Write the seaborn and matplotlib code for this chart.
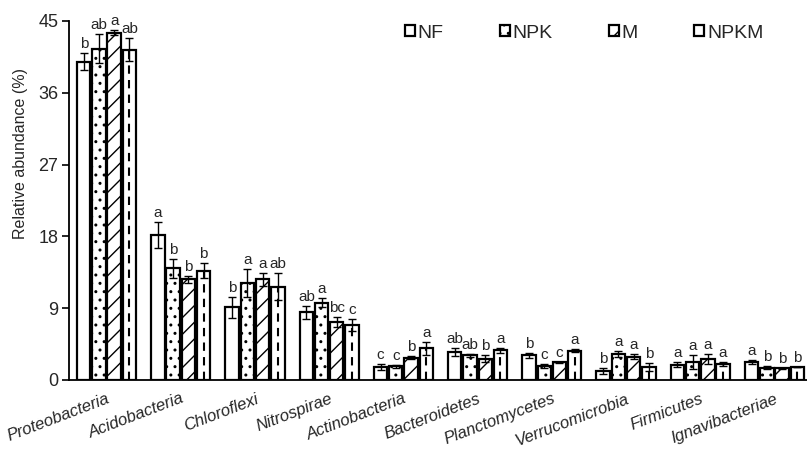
import numpy as np
import pandas as pd
import matplotlib
matplotlib.use("Agg")
import matplotlib.pyplot as plt
import seaborn as sns

phyla = ["Proteobacteria", "Acidobacteria", "Chloroflexi", "Nitrospirae",
         "Actinobacteria", "Bacteroidetes", "Planctomycetes", "Verrucomicrobia",
         "Firmicutes", "Ignavibacteriae"]
treatments = ["NF", "NPK", "M", "NPKM"]

nf_vals   = [39.9, 18.2, 9.1, 8.5, 1.6, 3.5, 3.1, 1.1, 1.9, 2.2]
npk_vals  = [41.5, 14.0, 12.1, 9.7, 1.7, 3.1, 1.75, 3.25, 2.2, 1.55]
m_vals    = [43.5, 12.6, 12.6, 7.3, 2.8, 2.65, 2.2, 2.9, 2.6, 1.45]
npkm_vals = [41.4, 13.7, 11.7, 6.9, 3.95, 3.7, 3.65, 1.6, 2.0, 1.6]

nf_err   = [1.1, 1.6, 1.3, 0.8, 0.37, 0.45, 0.33, 0.37, 0.3, 0.25]
npk_err  = [1.8, 1.2, 1.75, 0.55, 0.2, 0.2, 0.2, 0.4, 0.87, 0.2]
m_err    = [0.3, 0.4, 0.8, 0.6, 0.15, 0.45, 0.1, 0.33, 0.62, 0.1]
npkm_err = [1.4, 0.95, 1.66, 0.75, 0.8, 0.37, 0.2, 0.5, 0.2, 0.0]

nf_let   = ["b", "a", "b", "ab", "c", "ab", "b", "b", "a", "a"]
npk_let  = ["ab", "b", "a", "a", "c", "ab", "c", "a", "a", "b"]
m_let    = ["a", "b", "a", "bc", "b", "b", "c", "a", "a", "b"]
npkm_let = ["ab", "b", "ab", "c", "a", "a", "a", "b", "a", "b"]

y_ticks = [0, 9, 18, 27, 36, 45]

values = [nf_vals, npk_vals, m_vals, npkm_vals]
errors = [nf_err, npk_err, m_err, npkm_err]
letters = [nf_let, npk_let, m_let, npkm_let]

rows = []
for t, vals in zip(treatments, values):
    for p, v in zip(phyla, vals):
        rows.append({"phylum": p, "treatment": t, "value": v})
df = pd.DataFrame(rows)

sns.set_style("white")
plt.rcParams["font.family"] = ["Liberation Sans", "DejaVu Sans"]
plt.rcParams["hatch.linewidth"] = 1.0

fig = plt.figure(figsize=(8.07, 4.5), dpi=100)
ax = fig.add_axes([0.0861, 0.1556, 0.9195, 0.798])

sns.barplot(data=df, x="phylum", y="value", hue="treatment", order=phyla,
            hue_order=treatments, palette=["white"] * 4, edgecolor="black",
            linewidth=1.6, errorbar=None, width=0.82, gap=0.12, legend=False, ax=ax)

bar_containers = list(ax.containers)
hatches = [None, "..", "//", None]
for i, cont in enumerate(bar_containers):
    xs = []
    for p in cont.patches:
        if hatches[i]:
            p.set_hatch(hatches[i])
        xs.append(p.get_x() + p.get_width() / 2)
    if treatments[i] == "NPKM":
        ax.vlines(xs, 0, values[i], colors="black", linestyles=(0, (4, 3)), lw=1.5, zorder=1.5)
    ax.errorbar(xs, values[i], yerr=errors[i], fmt="none", ecolor="black",
                elinewidth=1, capsize=3, capthick=1, zorder=3)
    for x, v, e, l in zip(xs, values[i], errors[i], letters[i]):
        ax.text(x, v + e + 0.25, l, ha="center", va="bottom", fontsize=11)

ax.set_xlim(-0.5, 9.5)
ax.set_ylim(0, 45)
ax.set_yticks(y_ticks)
ax.set_yticklabels([str(t) for t in y_ticks], fontsize=13)
ax.set_xticks(range(len(phyla)))
ax.set_xticklabels(phyla, rotation=21, ha="right", rotation_mode="anchor",
                   fontsize=12, style="italic")
ax.set_xticks(np.arange(0.5, 9.5, 1.0), minor=True)
ax.tick_params(axis="x", which="major", length=0, pad=8)
ax.tick_params(axis="x", which="minor", length=5, width=1.2, direction="out", color="black")
ax.tick_params(axis="y", length=5, width=1.2, direction="out", color="black", left=True, pad=3)
ax.set_xlabel("")
ax.set_ylabel("Relative abundance (%)", fontsize=11.5)
ax.yaxis.set_label_coords(-0.056, 0.63)
for s in ["top", "right"]:
    ax.spines[s].set_visible(False)
for s in ["left", "bottom"]:
    ax.spines[s].set_color("black")
    ax.spines[s].set_linewidth(1.3)

fig.legend(bar_containers, treatments, loc="center left",
           bbox_to_anchor=(405 / 807, 1 - 33 / 450), ncol=4, frameon=False,
           fontsize=14, handlelength=0.5, handleheight=0.5, handletextpad=0.15,
           columnspacing=2.9, borderpad=0, borderaxespad=0)

fig.savefig("out.png", dpi=100)
